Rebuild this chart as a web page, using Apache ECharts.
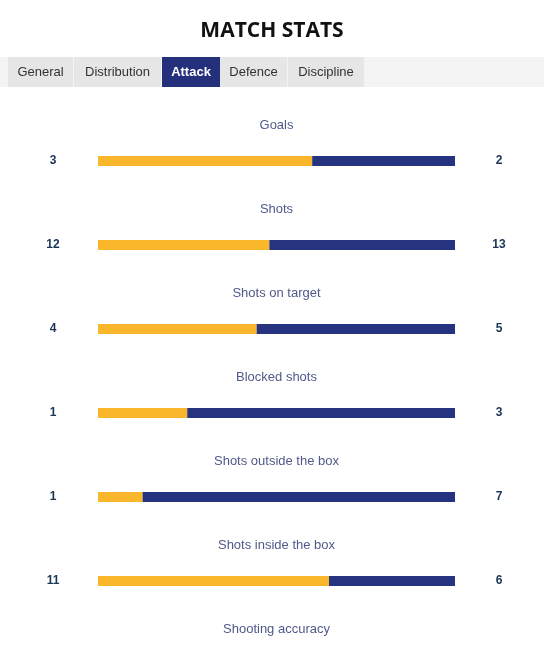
<!DOCTYPE html>
<html>
<head>
<meta charset="utf-8">
<script src="https://cdn.jsdelivr.net/npm/echarts@6/dist/echarts.min.js"></script>
<style>
html,body{margin:0;padding:0;background:#fff;overflow:hidden;}
#chart{width:544px;height:650px;}
</style>
</head>
<body>
<div id="chart"></div>
<script>
const titleText = 'MATCH STATS';
const tabs = ['General', 'Distribution', 'Attack', 'Defence', 'Discipline'];
const activeTab = 'Attack';
const categories = ['Goals', 'Shots', 'Shots on target', 'Blocked shots', 'Shots outside the box', 'Shots inside the box', 'Shooting accuracy'];
const homeValues = [3, 12, 4, 1, 1, 11, null];
const awayValues = [2, 13, 5, 3, 7, 6, null];

const homeShare = homeValues.map((h, i) => (h == null || awayValues[i] == null) ? null : h / (h + awayValues[i]));
const awayShare = awayValues.map((a, i) => (a == null || homeValues[i] == null) ? null : a / (homeValues[i] + a));

const tabX = [8, 74, 162, 220, 288];
const tabW = [65, 87, 58, 67, 76];
const graphics = [{
  type: 'rect', shape: {x: 0, y: 57, width: 544, height: 30}, style: {fill: '#f4f4f4'}, silent: true
}];
tabs.forEach((t, i) => {
  const active = t === activeTab;
  graphics.push({
    type: 'rect', shape: {x: tabX[i], y: 57, width: tabW[i], height: 30},
    style: {fill: active ? '#25307d' : '#e6e6e6'}, silent: true
  });
  graphics.push({
    type: 'text', x: tabX[i] + tabW[i] / 2, y: 72,
    style: {text: t, fill: active ? '#ffffff' : '#333333', font: (active ? 'bold ' : '') + '13px "Liberation Sans", Arial, sans-serif', align: 'center', verticalAlign: 'middle'},
    silent: true
  });
});

const numLabel = {
  color: '#1a3454', fontSize: 12, fontWeight: 'bold', fontFamily: '"Liberation Sans", Arial, sans-serif', align: 'center'
};

const chart = echarts.init(document.getElementById('chart'));
chart.setOption({
  animation: false,
  title: {
    text: titleText, left: 'center', top: 16,
    textStyle: {fontFamily: '"Open Sans", sans-serif', fontWeight: 'bold', fontSize: 21, color: '#111111'}
  },
  graphic: graphics,
  grid: {left: 98, top: 119, width: 357, height: 588, containLabel: false, outerBoundsMode: 'none'},
  xAxis: {type: 'value', min: 0, max: 1, show: false},
  yAxis: [{
    type: 'category', data: categories, inverse: true, position: 'left',
    axisLine: {show: false}, axisTick: {show: false}, splitLine: {show: false},
    axisLabel: Object.assign({margin: 45, formatter: (v, i) => homeValues[i] == null ? '' : String(homeValues[i])}, numLabel)
  }, {
    type: 'category', data: categories, inverse: true, position: 'right',
    axisLine: {show: false}, axisTick: {show: false}, splitLine: {show: false},
    axisLabel: Object.assign({margin: 44, formatter: (v, i) => awayValues[i] == null ? '' : String(awayValues[i])}, numLabel)
  }],
  series: [{
    name: 'Home', type: 'bar', stack: 'share', data: homeShare, barWidth: 10,
    itemStyle: {color: '#fbb72b'}, silent: true
  }, {
    name: 'Away', type: 'bar', stack: 'share', data: awayShare, barWidth: 10,
    itemStyle: {color: '#26337f'}, silent: true
  }, {
    name: 'Names', type: 'scatter', symbolSize: 0, silent: true,
    data: categories.map(c => [0.5, c]),
    label: {
      show: true, position: 'inside', offset: [0, -36],
      formatter: p => p.value[1],
      color: '#232e6c', fontSize: 13, fontFamily: '"Liberation Sans", Arial, sans-serif'
    }
  }]
});
</script>
</body>
</html>
